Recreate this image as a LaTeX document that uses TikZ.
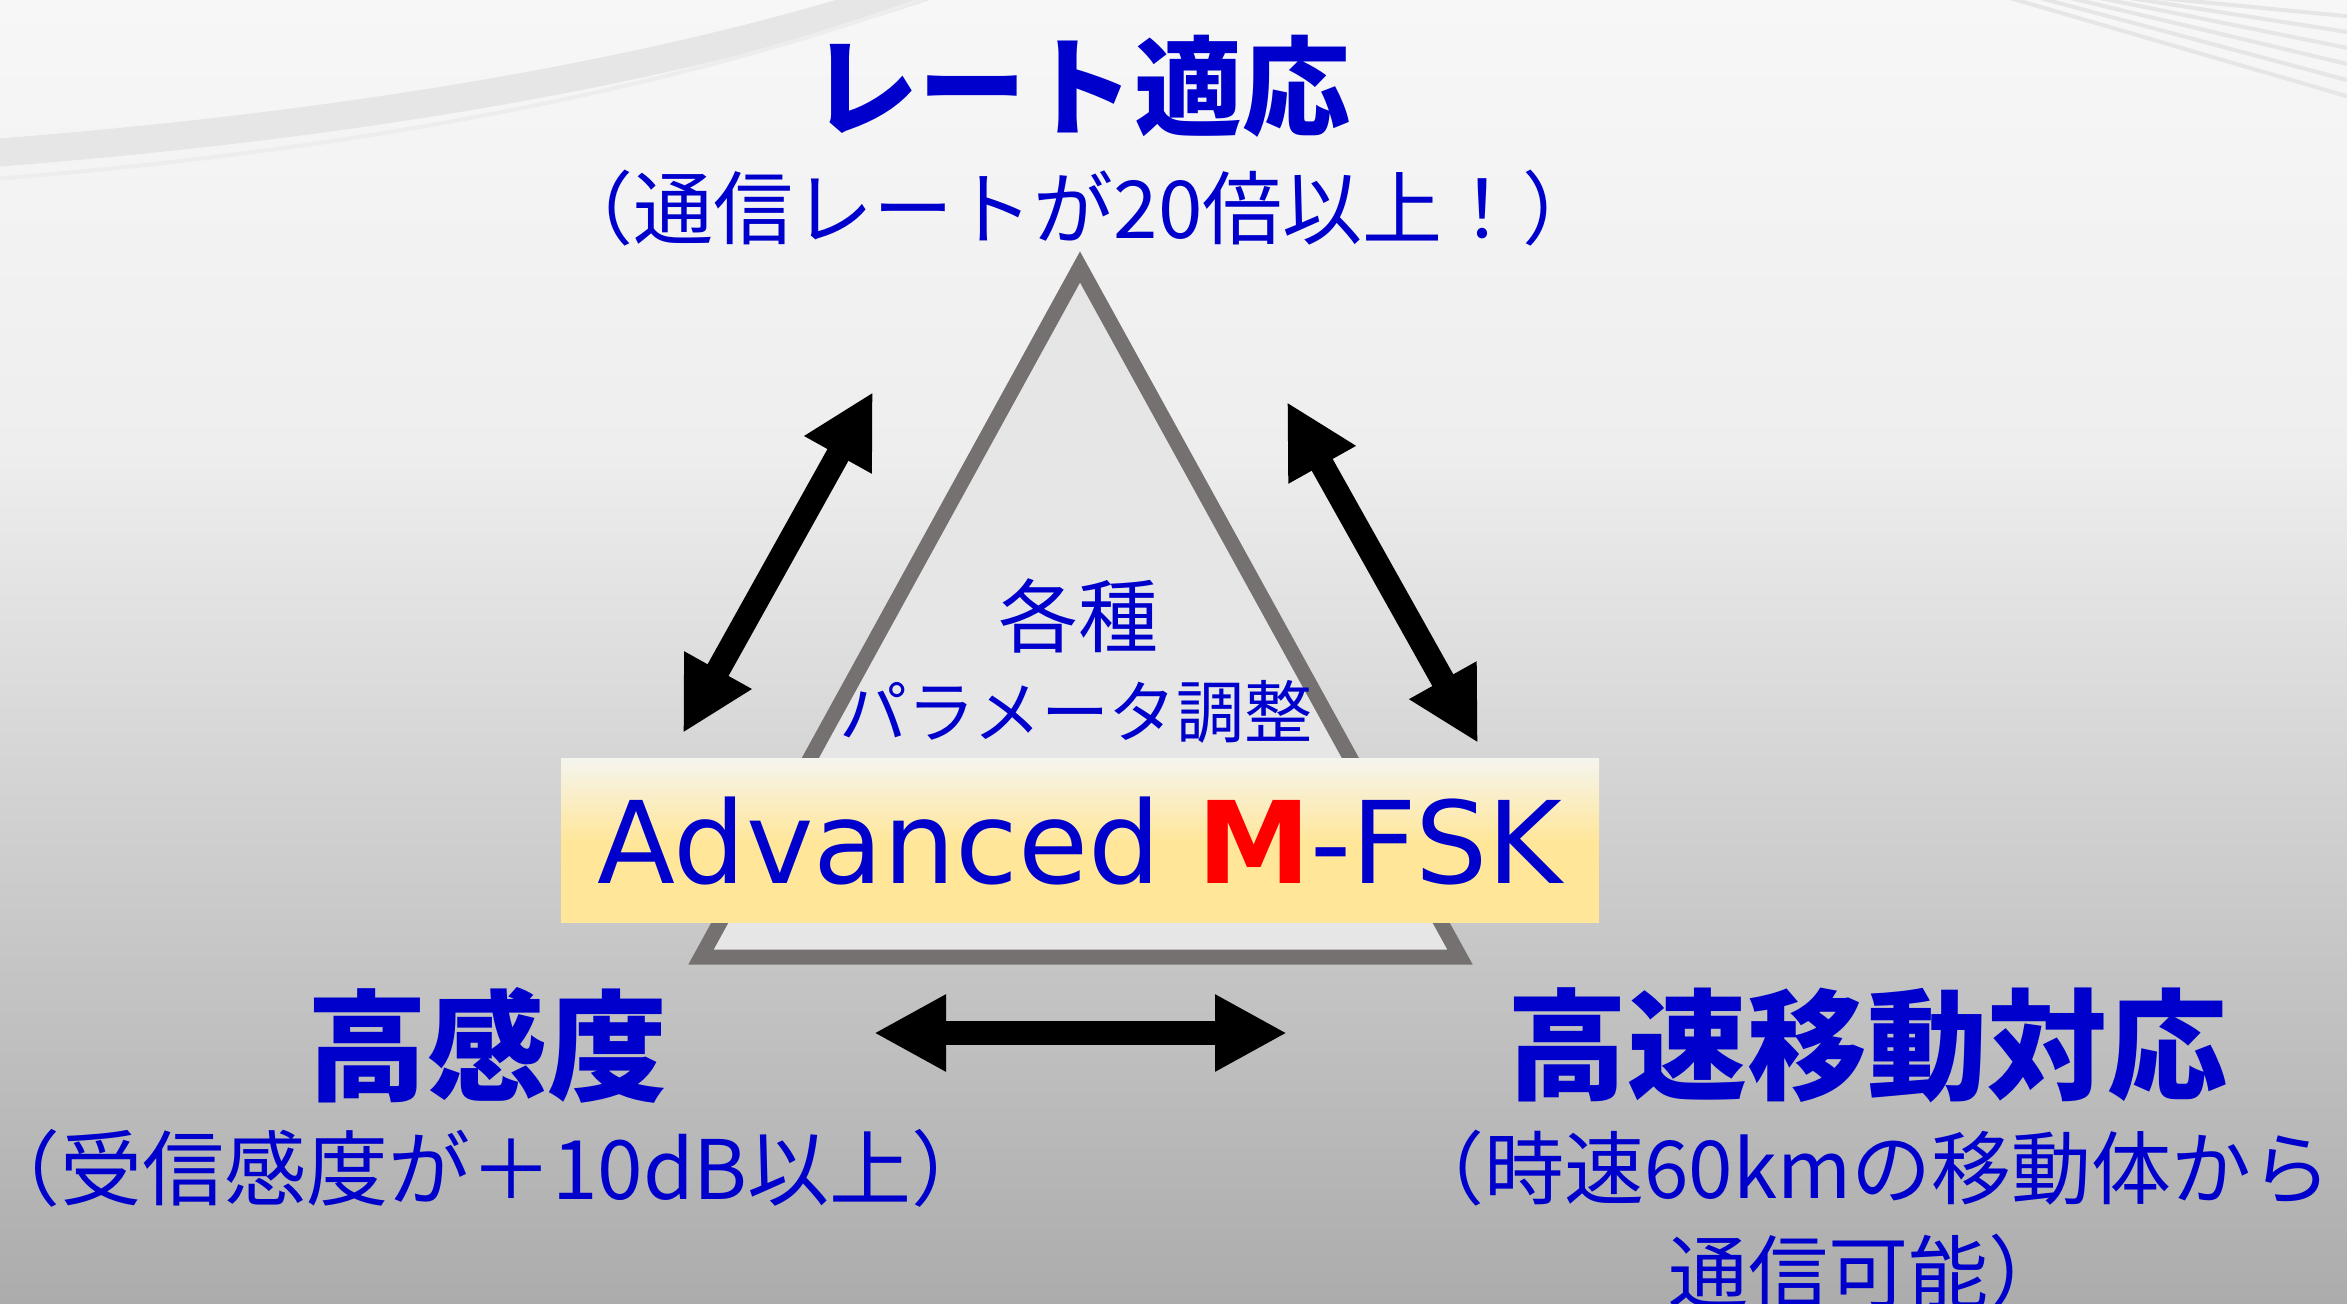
\documentclass[tikz,border=0pt]{standalone}
\usepackage{fontspec}
\usetikzlibrary{arrows.meta}
\newfontfamily\jpfont{Noto Sans CJK JP}
\newfontfamily\latinfnt{DejaVu Sans}
\definecolor{tblue}{HTML}{0000CC}
\definecolor{mred}{HTML}{FF0000}
\definecolor{trigray}{HTML}{767171}
\definecolor{trifill}{HTML}{E6E6E6}
\definecolor{boxtop}{HTML}{F5F5EF}
\definecolor{boxyel}{HTML}{FFE699}
\definecolor{bga}{HTML}{F7F7F7}
\definecolor{bgb}{HTML}{EEEEEE}
\definecolor{bgc}{HTML}{DADADA}
\definecolor{bgd}{HTML}{C6C6C6}
\definecolor{bge}{HTML}{ACACAC}
\definecolor{deco}{HTML}{E6E6E6}
\begin{document}
\begin{tikzpicture}[x=0.5pt,y=-0.5pt,
  txt/.style={inner sep=0pt,text=tblue},
  head/.style={txt,font=\jpfont\bfseries\fontsize{60}{66}\selectfont},
  subt/.style={txt,font=\jpfont\fontsize{40}{52}\selectfont,align=center},
  bigarrow/.style={line width=12pt,{Triangle[length=36pt,width=36pt]}-{Triangle[length=36pt,width=36pt]}},
  tri/.style={draw=trigray,fill=trifill,line width=7.5pt,line join=miter},
  fskbox/.style={minimum width=519pt,minimum height=82.5pt,inner sep=0pt,
    font=\latinfnt\fontsize{57}{60}\selectfont,text=tblue}]
\useasboundingbox (0,0) rectangle (2347,1303);
% background
\fill[top color=bga,bottom color=bgb] (0,0) rectangle (2347,452);
\fill[top color=bgb,bottom color=bgc] (0,450) rectangle (2347,702);
\fill[top color=bgc,bottom color=bgd] (0,700) rectangle (2347,952);
\fill[top color=bgd,bottom color=bge] (0,950) rectangle (2347,1303);
% decorative swoosh
\draw[deco,line width=14pt] (-20,154) .. controls (300,130) and (650,80) .. (930,-15);
\draw[deco!70!white,line width=2pt] (-20,180) .. controls (300,156) and (660,100) .. (960,-15);
\foreach \d in {0,30,60,90,120,150}{
  \draw[deco,line width=2pt] (2010+\d,-2) -- (2360,100-\d*0.55);
}
% triangle
\draw[tri] (1080,267) -- (701,957) -- (1460,957) -- cycle;
% arrows
\coordinate (la) at (683,733);
\coordinate (lb) at (873,392);
\coordinate (ra) at (1287,402);
\coordinate (rb) at (1478,743);
\coordinate (ba) at (874,1033);
\coordinate (bb) at (1287,1033);
\draw[bigarrow] (la) -- (lb);
\draw[bigarrow] (ra) -- (rb);
\draw[bigarrow] (ba) -- (bb);
% box
\fill[boxyel] (561,758) rectangle (1599,923);
\fill[top color=boxtop,bottom color=boxyel] (561,758) rectangle (1599,842);
% texts
\node[head,font=\jpfont\bfseries\fontsize{54}{60}\selectfont] (title) at (1080,86) {レート適応};
\node[subt] (titlesub) at (1078,208) {\hspace{-0.5em}（通信レートが20倍以上！）\hspace{-0.5em}};
\node[txt,font=\jpfont\fontsize{40}{48}\selectfont] (kakushu) at (1078,616) {各種};
\node[txt,font=\jpfont\fontsize{34}{40}\selectfont] (param) at (1076,712) {パラメータ調整};
\node[fskbox] (fsk) at (1080,841) {Advanced \textcolor{mred}{\bfseries M}-FSK};
\node[head] (kando) at (487,1045) {高感度};
\node[subt,font=\jpfont\fontsize{41}{52}\selectfont] (kandosub) at (486,1168) {\hspace{-0.5em}（受信感度が＋10dB以上）\hspace{-0.5em}};
\node[head] (kosoku) at (1867,1045) {高速移動対応};
\node[subt] (kosokusub) at (1868,1220) {（時速60kmの移動体から\\通信可能）};
\end{tikzpicture}
\end{document}
